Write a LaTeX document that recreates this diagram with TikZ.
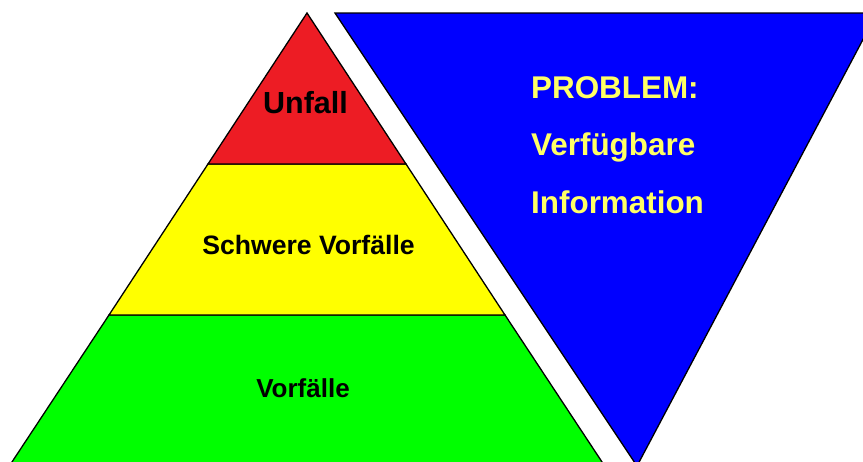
\documentclass[tikz,border=0pt]{standalone}
\usepackage{fontspec}
\setmainfont{Liberation Sans}
\definecolor{pyred}{HTML}{ED1C24}
\definecolor{pyyellow}{HTML}{FFFF00}
\definecolor{pygreen}{HTML}{00FF00}
\definecolor{pyblue}{HTML}{0000FF}
\definecolor{txtyellow}{HTML}{FFFF66}
\begin{document}
\begin{tikzpicture}[x=1pt,y=-1pt,
  layer/.style={draw=black,line width=1.3pt,line join=miter},
  lbl/.style={anchor=base,inner sep=0pt,font=\bfseries},
  problbl/.style={anchor=base west,inner sep=0pt,text=txtyellow,font=\bfseries\fontsize{31.4}{36}\selectfont}]
\clip (0,0) rectangle (863,461);
\fill[white] (0,0) rectangle (863,461);
% blue inverted triangle
\path[layer,fill=pyblue] (335,13) -- (877,13) -- (637,466) -- cycle;
% pyramid layers
\path[layer,fill=pygreen] (109,315) -- (505,315) -- (606,468) -- (8,468) -- cycle;
\path[layer,fill=pyyellow] (208,164) -- (406,164) -- (505,315) -- (109,315) -- cycle;
\path[layer,fill=pyred] (307,13) -- (406,164) -- (208,164) -- cycle;
% labels
\node[lbl,font=\bfseries\fontsize{30.5}{36}\selectfont] (unfall) at (305.5,113) {Unfall};
\node[lbl,font=\bfseries\fontsize{26.6}{30}\selectfont] (schwer) at (308.5,254) {Schwere Vorfälle};
\node[lbl,font=\bfseries\fontsize{26}{30}\selectfont] (vorf) at (303,397) {Vorfälle};
\node[problbl] (problem) at (531,98) {PROBLEM:};
\node[problbl] (verf) at (531,155) {Verfügbare};
\node[problbl] (info) at (531,213) {Information};
\end{tikzpicture}
\end{document}
